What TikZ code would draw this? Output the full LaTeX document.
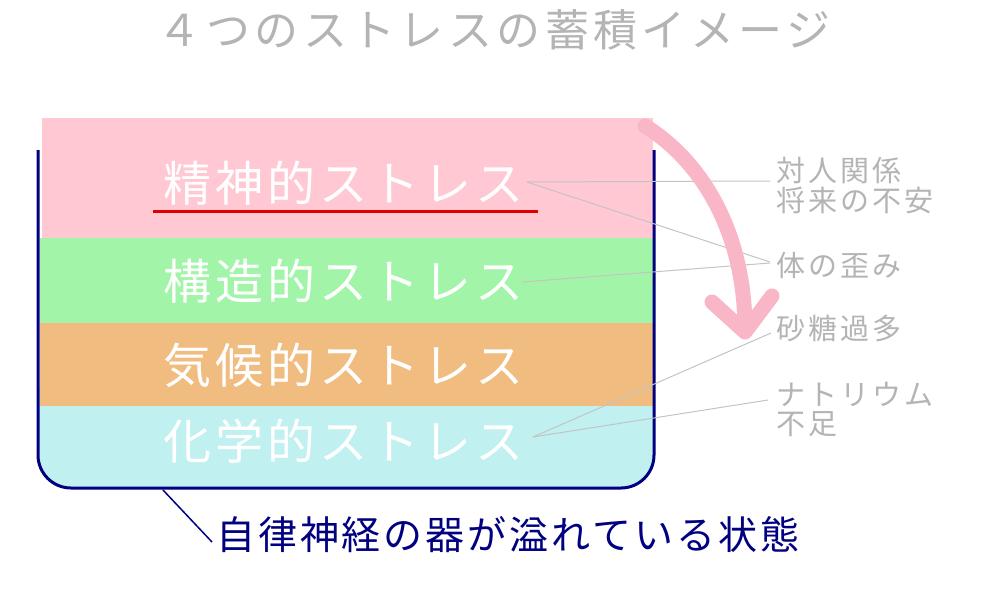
\documentclass[tikz,border=0pt]{standalone}
\usepackage{fontspec}
\setmainfont{Noto Sans CJK JP}
\usetikzlibrary{calc}
\definecolor{pinkL}{HTML}{FFC8D2}
\definecolor{greenL}{HTML}{A2F5A8}
\definecolor{orangeL}{HTML}{F0BC80}
\definecolor{cyanL}{HTML}{C0F0F0}
\definecolor{navyC}{HTML}{000080}
\definecolor{arrowpink}{HTML}{F8B6C6}
\definecolor{labgray}{HTML}{B4B4B4}
\definecolor{leadgray}{HTML}{C4C4C4}
\definecolor{redline}{HTML}{E00000}
\begin{document}
\begin{tikzpicture}[x=1pt,y=-1pt,
  layertxt/.style={anchor=west,inner sep=0,text=white,font=\fontsize{48}{52}\selectfont\addfontfeature{LetterSpace=8.3}},
  sidelab/.style={anchor=west,inner sep=0,text=labgray,font=\fontsize{29}{32}\selectfont\addfontfeature{LetterSpace=11}},
  leader/.style={draw=leadgray,line width=1},
  bigarrow/.style={draw=arrowpink,line width=15,line cap=round,line join=round},
]
\useasboundingbox (0,0) rectangle (1000,600);
\fill[white] (0,0) rectangle (1000,600);
% title
\node[inner sep=0,text=labgray,font=\fontsize{44}{48}\selectfont\addfontfeature{LetterSpace=10}] (title) at (494,30) {４つのストレスの蓄積イメージ};
% layers
\fill[cyanL,rounded corners=33] (39,360) rectangle (653,488);
\fill[pinkL] (42,118) rectangle (653,238);
\fill[greenL] (40,238) rectangle (654,323);
\fill[orangeL] (40,323) rectangle (654,406);
\fill[cyanL] (40,406) rectangle (654,440);
% container
\draw[navyC,line width=3,rounded corners=33] (38,150) -- (38,488) -- (654,488) -- (654,150);
% red underline
\draw[redline,line width=3] (153,211) -- (538,211);
% layer texts
\node[layertxt] (t1) at (163,183) {精神的ストレス};
\node[layertxt] (t2) at (163,281) {構造的ストレス};
\node[layertxt] (t3) at (163,365) {気候的ストレス};
\node[layertxt] (t4) at (163,441) {化学的ストレス};
% side labels
\node[sidelab] (la1) at (776,170) {対人関係};
\node[sidelab] (la2) at (776,200) {将来の不安};
\node[sidelab] (lb) at (776,265) {体の歪み};
\node[sidelab] (lc) at (776,328) {砂糖過多};
\node[sidelab] (ld1) at (776,394) {ナトリウム};
\node[sidelab] (ld2) at (776,424) {不足};
% leaders
\coordinate (s1) at (527,182);
\coordinate (s2) at (522,282);
\coordinate (s4) at (533,437);
\draw[leader] (s1) -- ($(la1.west)+(-6,11)$);
\draw[leader] (s1) -- ($(lb.west)+(-6,-3)$);
\draw[leader] (s2) -- ($(lb.west)+(-6,-2)$);
\draw[leader] (s4) -- ($(lc.west)+(-5,5)$);
\draw[leader] (s4) -- ($(ld1.west)+(-8,6)$);
% pink arrow
\draw[bigarrow] (645,126) .. controls (700,160) and (745,230) .. (745,330);
\draw[bigarrow] (712,302) -- (745,332) -- (772,296);
% bottom label
\node[anchor=west,inner sep=0,text=navyC,font=\fontsize{39}{43}\selectfont\addfontfeature{LetterSpace=7.5}] (bot) at (216,535) {自律神経の器が溢れている状態};
\coordinate (cb) at (163,490);
\draw[navyC,line width=1.5] (cb) -- ($(bot.west)+(-4,7)$);
\end{tikzpicture}
\end{document}
